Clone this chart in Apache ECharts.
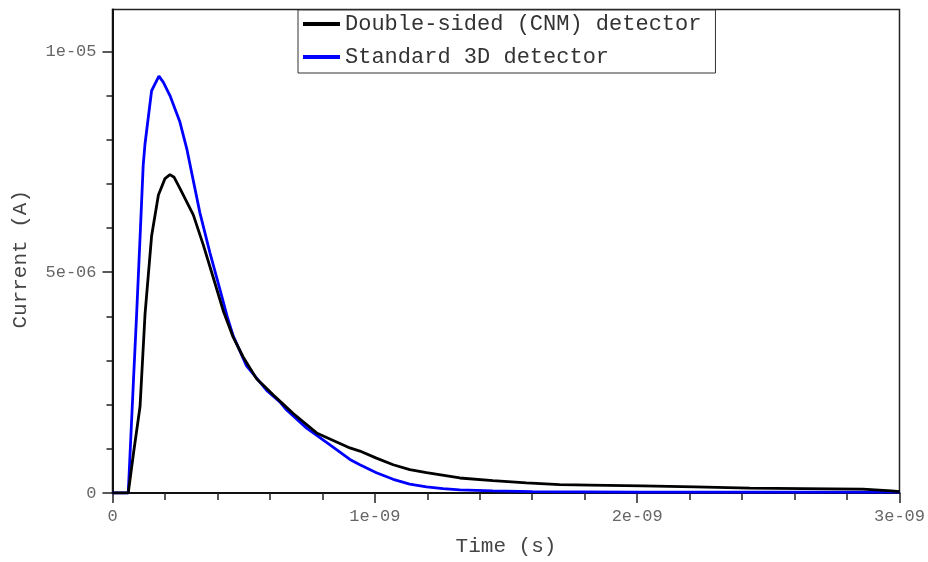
<!DOCTYPE html>
<html><head><meta charset="utf-8">
<script src="https://cdn.jsdelivr.net/npm/echarts@6/dist/echarts.min.js"></script>
<style>html,body{margin:0;padding:0;background:#fff}#c{width:928px;height:562px}</style>
</head><body><div id="c"></div>
<script>
// Double-sided (CNM) detector: time in ns, current in µA
const timeNsCNM = [0, 0.06, 0.08, 0.105, 0.124, 0.149, 0.175, 0.2, 0.219, 0.235, 0.257, 0.308, 0.346, 0.384, 0.422, 0.46, 0.498, 0.549, 0.587, 0.613, 0.64, 0.689, 0.778, 0.905, 0.943, 1.006, 1.07, 1.133, 1.197, 1.324, 1.45, 1.578, 1.705, 1.82, 2.02, 2.22, 2.43, 2.63, 2.86, 2.97, 3.0];
const currentUACNM = [0, 0, 0.9, 1.96, 4.05, 5.82, 6.75, 7.12, 7.21, 7.15, 6.9, 6.3, 5.62, 4.88, 4.13, 3.53, 3.08, 2.59, 2.37, 2.22, 2.07, 1.80, 1.36, 1.02, 0.95, 0.79, 0.64, 0.53, 0.46, 0.34, 0.28, 0.23, 0.19, 0.18, 0.16, 0.14, 0.11, 0.10, 0.09, 0.05, 0.03];
// Standard 3D detector
const timeNsStd = [0, 0.06, 0.08, 0.092, 0.105, 0.117, 0.124, 0.149, 0.177, 0.194, 0.219, 0.257, 0.283, 0.333, 0.371, 0.41, 0.437, 0.46, 0.511, 0.587, 0.64, 0.664, 0.74, 0.829, 0.905, 0.943, 1.006, 1.07, 1.133, 1.197, 1.26, 1.324, 1.45, 1.6, 2.0, 3.0];
const currentUAStd = [0, 0, 2.56, 4.05, 5.78, 7.42, 7.91, 9.11, 9.44, 9.3, 9.0, 8.4, 7.8, 6.35, 5.45, 4.6, 4.0, 3.56, 2.88, 2.33, 2.05, 1.88, 1.47, 1.09, 0.76, 0.64, 0.46, 0.31, 0.20, 0.14, 0.10, 0.07, 0.05, 0.03, 0.02, 0.02];

const seriesNames = ['Double-sided (CNM) detector', 'Standard 3D detector'];
const yMajorTicks = [0, 5e-6, 1e-5];
const yMinorTicks = [1e-6, 2e-6, 3e-6, 4e-6, 6e-6, 7e-6, 8e-6, 9e-6];
const xMin = 0, xMax = 3e-9, xStep = 1e-9;
const yMin = 0, yMax = 1.095e-5;

function fmt(v) {
  if (Math.abs(v) < 1e-30) return '0';
  const m = v.toExponential(0).match(/^(-?\d)e([+-])(\d+)$/);
  return m ? m[1] + 'e' + m[2] + m[3].padStart(2, '0') : String(v);
}
const pairs = (t, c) => t.map((x, i) => [x * 1e-9, c[i] * 1e-6]);

const FONT = 'Liberation Mono';
const chart = echarts.init(document.getElementById('c'), null, {renderer: 'canvas'});
chart.setOption({
  animation: false,
  backgroundColor: '#fff',
  grid: {left: 112.5, right: 28, top: 9.5, bottom: 65, show: true, borderColor: '#222', borderWidth: 1.5, backgroundColor: 'transparent'},
  legend: {
    orient: 'vertical', left: 298, top: 10,
    padding: [3, 14, 5, 5], itemGap: 11,
    itemWidth: 37, itemHeight: 4, icon: 'rect',
    backgroundColor: '#fff', borderColor: '#333', borderWidth: 1,
    textStyle: {fontFamily: FONT, fontSize: 22, lineHeight: 22, color: '#333'},
    data: seriesNames
  },
  xAxis: {
    type: 'value', min: xMin, max: xMax, interval: xStep,
    name: 'Time (s)', nameLocation: 'middle', nameGap: 43,
    nameTextStyle: {fontFamily: FONT, fontSize: 21, color: '#444'},
    axisLine: {show: true, lineStyle: {color: '#111', width: 2}},
    axisTick: {show: true, inside: false, length: 10, lineStyle: {color: '#222', width: 1.5}},
    minorTick: {show: true, splitNumber: 5, length: 7, lineStyle: {color: '#222', width: 1.5}},
    axisLabel: {formatter: fmt, fontFamily: FONT, fontSize: 17, color: '#666', margin: 15},
    splitLine: {show: false}, minorSplitLine: {show: false}
  },
  yAxis: [{
    type: 'value', min: yMin, max: yMax,
    name: 'Current (A)', nameLocation: 'middle', nameGap: 82,
    nameTextStyle: {fontFamily: FONT, fontSize: 21, color: '#444', padding: [0, 16, 0, 0]},
    axisLine: {show: true, lineStyle: {color: '#111', width: 2}},
    axisTick: {show: true, inside: false, length: 10, customValues: yMajorTicks, lineStyle: {color: '#222', width: 1.5}},
    axisLabel: {customValues: yMajorTicks, formatter: fmt, fontFamily: FONT, fontSize: 17, color: '#666', margin: 16},
    splitLine: {show: false}
  }, {
    type: 'value', min: yMin, max: yMax, position: 'left',
    axisLine: {show: false},
    axisTick: {show: true, inside: false, length: 6, customValues: yMinorTicks, lineStyle: {color: '#222', width: 1.5}},
    axisLabel: {show: false},
    splitLine: {show: false}
  }],
  series: [{
    name: seriesNames[0], type: 'line', showSymbol: false, symbol: 'none',
    lineStyle: {color: '#000', width: 2.8}, itemStyle: {color: '#000'},
    data: pairs(timeNsCNM, currentUACNM), z: 3
  }, {
    name: seriesNames[1], type: 'line', showSymbol: false, symbol: 'none',
    lineStyle: {color: '#0000ff', width: 2.8}, itemStyle: {color: '#0000ff'},
    data: pairs(timeNsStd, currentUAStd), z: 2
  }]
});
</script></body></html>
